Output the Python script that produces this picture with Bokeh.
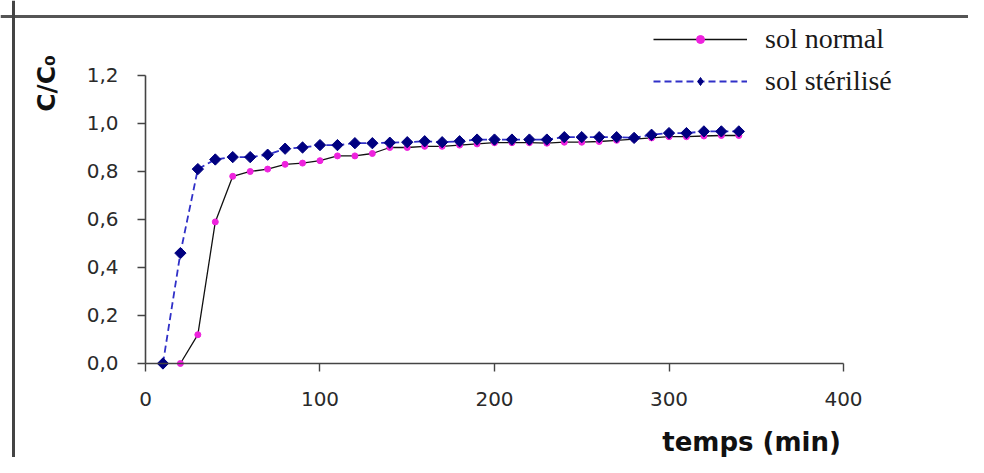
import math
from bokeh.plotting import figure
from bokeh.models import Range1d, FixedTicker, Label, Legend, LegendItem, Span
from bokeh.embed import file_html
from bokeh.resources import INLINE

# ---- data ----
t_normal = [20, 30, 40, 50, 60, 70, 80, 90, 100, 110, 120, 130, 140, 150, 160, 170,
            180, 190, 200, 210, 220, 230, 240, 250, 260, 270, 280, 290, 300, 310,
            320, 330, 340]
c_normal = [0.0, 0.12, 0.59, 0.78, 0.80, 0.81, 0.83, 0.835, 0.845, 0.865, 0.865,
            0.875, 0.90, 0.90, 0.905, 0.905, 0.91, 0.915, 0.92, 0.92, 0.92, 0.918,
            0.922, 0.922, 0.925, 0.93, 0.935, 0.94, 0.945, 0.945, 0.948, 0.95, 0.95]

t_steril = [10, 20, 30, 40, 50, 60, 70, 80, 90, 100, 110, 120, 130, 140, 150, 160,
            170, 180, 190, 200, 210, 220, 230, 240, 250, 260, 270, 280, 290, 300,
            310, 320, 330, 340]
c_steril = [0.0, 0.46, 0.81, 0.85, 0.86, 0.86, 0.87, 0.895, 0.90, 0.91, 0.91, 0.918,
            0.918, 0.92, 0.922, 0.926, 0.922, 0.926, 0.933, 0.933, 0.933, 0.933,
            0.933, 0.943, 0.943, 0.943, 0.943, 0.94, 0.953, 0.96, 0.96, 0.967,
            0.967, 0.967]

x_ticks = [0, 100, 200, 300, 400]
y_ticks = [0.0, 0.2, 0.4, 0.6, 0.8, 1.0, 1.2]
y_tick_labels = ["0,0", "0,2", "0,4", "0,6", "0,8", "1,0", "1,2"]

series_names = ["sol normal", "sol stérilisé"]
x_title = "temps (min)"
y_title = "C/C\u2080"

# ---- figure: the frame fills the canvas, axes are drawn at x=0 / y=0 ----
W, H = 968, 457
p = figure(width=W, height=H, output_backend="svg", toolbar_location=None,
           title=None,
           x_range=Range1d(-83.09, 471.63), y_range=Range1d(-0.3917, 1.5125),
           min_border=0, min_border_left=0, min_border_right=0,
           min_border_top=0, min_border_bottom=0)

p.grid.visible = False
p.outline_line_color = None
p.background_fill_color = "white"
p.border_fill_color = "white"

tick_font = "DejaVu Sans"
for ax in (p.xaxis[0], p.yaxis[0]):
    ax.fixed_location = 0
    ax.axis_line_color = "#444444"
    ax.axis_line_width = 1.6
    ax.major_tick_line_color = "#444444"
    ax.major_tick_line_width = 1.4
    ax.major_tick_out = 8
    ax.major_tick_in = 0
    ax.minor_tick_line_color = None
    ax.major_label_text_font = tick_font
    ax.major_label_text_font_size = "20px"
    ax.major_label_text_color = "#2a2a2a"

p.xaxis[0].ticker = FixedTicker(ticks=x_ticks)
p.xaxis[0].bounds = (0, 400)
p.xaxis[0].major_label_standoff = 21
p.yaxis[0].ticker = FixedTicker(ticks=y_ticks)
p.yaxis[0].bounds = (0, 1.2)
p.yaxis[0].major_label_overrides = {v: s for v, s in zip(y_ticks, y_tick_labels)}
p.yaxis[0].major_label_standoff = 19

# outer box (top and left edges of the original figure frame)
p.add_layout(Span(location=1.4458, dimension="width", line_color="#555555",
                  line_width=3))
p.add_layout(Span(location=-75.64, dimension="height", line_color="#444444",
                  line_width=3))

# ---- series ----
l1 = p.line(t_normal, c_normal, line_color="#111111", line_width=1.3)
m1 = p.scatter(t_normal, c_normal, marker="circle", size=6,
               fill_color="#ee22dd", line_color="#ee22dd")
l2 = p.line(t_steril, c_steril, line_color="#3030c8", line_width=1.8,
            line_dash="7 4")
# diamond key for the legend (hidden under the plotted markers)
m2_key = p.scatter(t_steril, c_steril, marker="diamond", size=8,
                   fill_color="#000080", line_color="#000080")
m2 = p.scatter(t_steril, c_steril, marker="square", angle=math.pi / 4, size=8,
               fill_color="#000080", line_color="#000080")

legend = Legend(items=[LegendItem(label=series_names[0], renderers=[l1, m1]),
                       LegendItem(label=series_names[1], renderers=[l2, m2_key])],
                location=(653, 360), orientation="vertical",
                glyph_width=94, glyph_height=20, label_standoff=18,
                spacing=10, padding=0, margin=0,
                border_line_color=None, background_fill_alpha=0,
                label_text_font="Liberation Serif", label_text_font_size="28px",
                label_text_color="#1a1a1a")
p.add_layout(legend)

# ---- axis titles ----
p.add_layout(Label(x=347.3, y=-0.329, text=x_title, text_align="center",
                   text_baseline="middle", text_font="DejaVu Sans",
                   text_font_style="bold", text_font_size="26px",
                   text_color="#111111"))
p.add_layout(Label(x=-56.7, y=1.167, text=y_title, angle=math.pi / 2,
                   text_align="center", text_baseline="middle",
                   text_font="DejaVu Sans", text_font_style="bold",
                   text_font_size="25px", text_color="#111111"))

open("out.html", "w").write(file_html(p, INLINE))
